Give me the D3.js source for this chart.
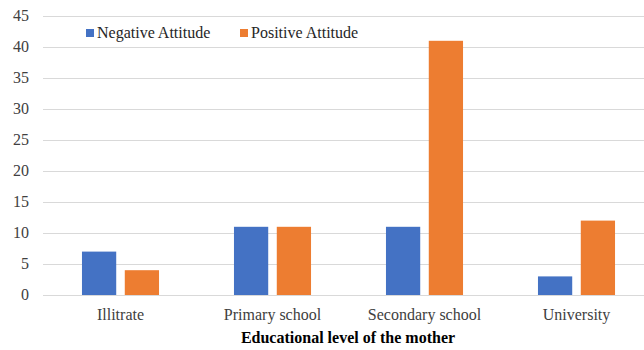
<!DOCTYPE html>
<html><head><meta charset="utf-8">
<script src="https://cdn.jsdelivr.net/npm/d3@7"></script>
</head><body style="margin:0">
<script>
const categories = ["Illitrate", "Primary school", "Secondary school", "University"];
const seriesNames = ["Negative Attitude", "Positive Attitude"];
const negative = [7, 11, 11, 3];
const positive = [4, 11, 41, 12];
const yTicks = [0, 5, 10, 15, 20, 25, 30, 35, 40, 45];
const colors = ["#4472C4", "#ED7D31"];
const xTitle = "Educational level of the mother";

const W = 644, H = 350;
const FONT = '"Liberation Serif"';
const svg = d3.select("body").append("svg").attr("width", W).attr("height", H);

const y = d3.scaleLinear().domain([0, 45]).range([295, 16]);
const x = d3.scaleBand().domain(categories).range([44.5, 652.5]).paddingInner(0.493).paddingOuter(0.2465);
const xs = d3.scaleBand().domain(seriesNames).range([0, x.bandwidth()]).paddingInner(0.2);

svg.append("g").selectAll("line").data(yTicks).join("line")
  .attr("x1", 43).attr("x2", W)
  .attr("y1", d => Math.round(y(d)) + 0.5).attr("y2", d => Math.round(y(d)) + 0.5)
  .attr("stroke", "#d9d9d9").attr("stroke-width", 1);

svg.append("g").selectAll("text").data(yTicks).join("text")
  .attr("x", 29).attr("y", d => y(d)).attr("dy", "0.32em").attr("text-anchor", "end")
  .style("font-family", FONT).style("font-size", "16px").attr("fill", "#404040")
  .text(d => d);

const data = categories.map((c, i) => ({c, vals: [negative[i], positive[i]]}));
const groups = svg.append("g").selectAll("g").data(data).join("g")
  .attr("transform", d => `translate(${x(d.c)},0)`);
groups.selectAll("rect").data(d => d.vals.map((v, j) => ({s: seriesNames[j], v, j})))
  .join("rect")
  .attr("x", d => xs(d.s)).attr("width", xs.bandwidth())
  .attr("y", d => y(d.v)).attr("height", d => y(0) - y(d.v))
  .attr("fill", d => colors[d.j]);

svg.append("g").selectAll("text").data(categories).join("text")
  .attr("x", d => x(d) + x.bandwidth() / 2).attr("y", 320).attr("text-anchor", "middle")
  .style("font-family", FONT).style("font-size", "16px").attr("fill", "#404040")
  .text(d => d);

svg.append("text").attr("x", 348).attr("y", 343).attr("text-anchor", "middle")
  .style("font-family", FONT).style("font-size", "16px").style("font-weight", "bold").attr("fill", "#000")
  .text(xTitle);

const legX = [86, 240];
const leg = svg.append("g").selectAll("g").data(seriesNames).join("g")
  .attr("transform", (d, i) => `translate(${legX[i]},29)`);
leg.append("rect").attr("width", 8).attr("height", 8).attr("fill", (d, i) => colors[i]);
leg.append("text").attr("x", 11).attr("y", 9).style("font-family", FONT).style("font-size", "16px")
  .attr("fill", "#262626").text(d => d);
</script>
</body></html>
